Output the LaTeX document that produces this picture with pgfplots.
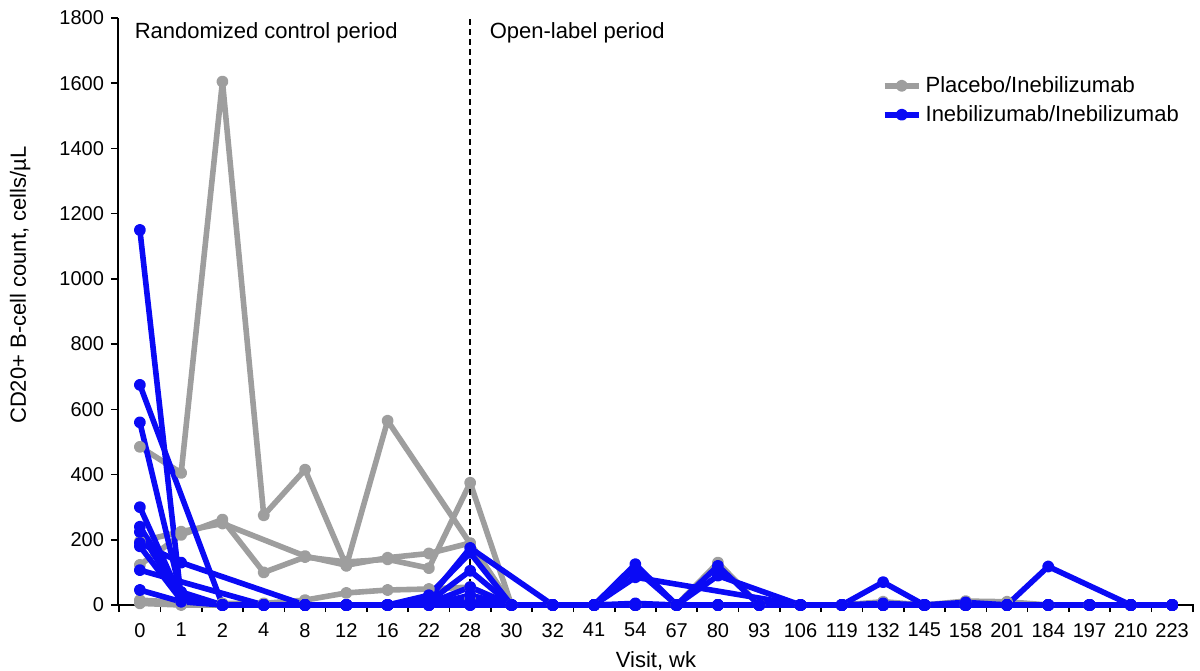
\documentclass[border=0pt]{standalone}
\usepackage{pgfplots}
\pgfplotsset{compat=1.18}
\usepackage{fontspec}
\setmainfont{Liberation Sans}
\definecolor{plgray}{RGB}{158,158,158}
\definecolor{plblue}{RGB}{10,10,245}
\pgfplotsset{
  pg/.style={color=plgray, line width=2.8pt, line join=round, mark=*, mark size=1.6pt, mark options={solid}},
  pb/.style={color=plblue, line width=2.8pt, line join=round, mark=*, mark size=1.6pt, mark options={solid}},
}
\begin{document}
\begin{tikzpicture}
\begin{axis}[
  at={(0,0)}, anchor=south west,
  scale only axis, width=538pt, height=293.5pt,
  xmin=-0.53, xmax=25.53, ymin=0, ymax=1800,
  axis x line*=bottom, axis y line*=left,
  axis line style={-, line width=0.8pt},
  every tick/.style={black, line width=0.8pt},
  tick align=outside,
  major tick length=3.5pt, minor tick length=3.5pt,
  xtick={0,...,25},
  xticklabels={0,1,2,4,8,12,16,22,28,30,32,41,54,67,80,93,106,119,132,145,158,201,184,197,210,223},
  major x tick style={draw=none},
  minor xtick={-0.5,0.5,...,25.5},
  ytick={0,200,...,1800},
  /pgf/number format/assume math mode=true,
  /pgf/number format/1000 sep={},
  tick label style={font=\fontsize{10}{12}\selectfont},
  xticklabel style={yshift=-2pt},
  xlabel={Visit, wk},
  xlabel style={at={(axis description cs:0.5,0)}, anchor=base, yshift=-31pt, font=\fontsize{11}{13}\selectfont},
  ylabel={CD20+ B-cell count, cells/µL},
  ylabel style={at={(axis description cs:-0.091,0.545)}, anchor=center, font=\fontsize{11}{13}\selectfont},
  legend style={at={(axis description cs:0.704,0.915)}, anchor=north west, draw=none, fill=none,
    font=\fontsize{11}{13}\selectfont, row sep=1pt},
  legend cell align=left,
  clip=false,
]
% Placebo/Inebilizumab
\addplot[pg] coordinates {(0,485)(1,405)(2,1605)(3,275)(4,415)(5,120)(6,565)(9,0)(10,0)(11,0)(12,0)(13,0)(14,0)(15,0)(16,0)(17,0)(18,0)(19,0)(20,0)(21,0)(22,0)(23,0)(24,0)(25,0)};
\addlegendentry{Placebo/Inebilizumab}
\addplot[pg, forget plot] coordinates {(0,123)(1,215)(2,262)(3,100)(4,147)(5,132)(6,140)(7,113)(8,375)(9,0)(10,0)(11,0)(12,0)(13,0)(14,0)(15,0)(16,0)(17,0)(18,0)(19,0)(20,0)(21,0)(22,0)(23,0)(24,0)(25,0)};
\addplot[pg, forget plot] coordinates {(0,195)(1,225)(2,250)(4,150)(5,122)(6,145)(7,158)(8,190)(9,0)(10,0)(11,0)(12,0)(13,0)(14,0)(15,0)(16,0)(17,0)(18,0)(19,0)(20,0)(21,0)(22,0)(23,0)(24,0)(25,0)};
\addplot[pg, forget plot] coordinates {(0,15)(1,8)(2,5)(3,5)(4,15)(5,37)(6,46)(7,49)(8,55)(9,0)(10,0)(11,0)(12,0)(13,0)(14,0)(15,0)(16,0)(17,0)(18,0)(19,0)(20,0)(21,0)(22,0)(23,0)(24,0)(25,0)};
\addplot[pg, forget plot] coordinates {(0,5)(1,0)(2,0)(3,0)(4,0)(5,0)(6,0)(7,0)(8,20)(9,0)(10,0)(11,0)(12,0)(13,0)(14,130)(15,0)(16,0)(17,0)(18,10)(19,0)(20,12)(21,10)(22,0)(23,0)(24,0)(25,0)};
% Inebilizumab/Inebilizumab
\addplot[pb] coordinates {(0,1150)(1,20)(2,0)(3,0)(4,0)(5,0)(6,0)(7,0)(8,10)(9,0)(10,0)(11,0)(12,5)(13,0)(14,0)(15,0)(16,0)(17,0)(18,5)(19,0)(20,5)(21,0)(22,0)(23,0)(24,0)(25,0)};
\addlegendentry{Inebilizumab/Inebilizumab}
\addplot[pb, forget plot] coordinates {(0,675)(2,0)(3,0)(4,0)(5,0)(6,0)(7,20)(8,175)(10,0)(11,0)(12,125)(13,0)(14,120)(15,0)(16,0)(17,0)(18,0)(19,0)(20,0)(21,0)(22,0)(23,0)(24,0)(25,0)};
\addplot[pb, forget plot] coordinates {(0,560)(1,30)(2,0)(3,0)(4,0)(5,0)(6,0)(7,30)(8,160)(9,0)(10,0)(11,0)(12,110)(13,0)(14,90)(16,0)(17,0)(18,0)(19,0)(20,0)(21,0)(22,0)(23,0)(24,0)(25,0)};
\addplot[pb, forget plot] coordinates {(0,300)(1,20)(2,0)(3,0)(4,0)(5,0)(6,0)(7,10)(8,105)(9,0)(10,0)(11,0)(12,85)(16,0)(17,0)(18,70)(19,0)(20,0)(21,0)(22,0)(23,0)(24,0)(25,0)};
\addplot[pb, forget plot] coordinates {(0,240)(1,40)(2,0)(3,0)(4,0)(5,0)(6,0)(7,5)(8,55)(9,0)(10,0)(11,0)(12,0)(13,0)(14,0)(15,0)(16,0)(17,0)(18,0)(19,0)(20,0)(21,0)(22,118)(24,0)(25,0)};
\addplot[pb, forget plot] coordinates {(0,224)(1,20)(2,0)(3,0)(4,0)(5,0)(6,0)(7,0)(8,30)(9,0)(10,0)(11,0)(12,0)(13,0)(14,0)(15,0)(16,0)(17,0)(18,0)(19,0)(20,8)(21,0)(22,0)(23,0)(24,0)(25,0)};
\addplot[pb, forget plot] coordinates {(0,190)(1,130)(4,0)(5,0)(6,0)(7,0)(8,10)(9,0)(10,0)(11,0)(12,0)(13,0)(14,0)(15,0)(16,0)(17,0)(18,0)(19,0)(20,0)(21,0)(22,0)(23,0)(24,0)(25,0)};
\addplot[pb, forget plot] coordinates {(0,180)(1,15)(2,0)(3,0)(4,0)(5,0)(6,0)(7,0)(8,0)(9,0)(10,0)(11,0)(12,0)(13,0)(14,0)(15,0)(16,0)(17,0)(18,0)(19,0)(20,0)(21,0)(22,0)(23,0)(24,0)(25,0)};
\addplot[pb, forget plot] coordinates {(0,107)(3,0)(4,0)(5,0)(6,0)(7,0)(8,0)(9,0)(10,0)(11,0)(12,0)(13,0)(14,0)(15,0)(16,0)(17,0)(18,0)(19,0)(20,0)(21,0)(22,0)(23,0)(24,0)(25,0)};
\addplot[pb, forget plot] coordinates {(0,46)(1,10)(2,0)(3,0)(4,0)(5,0)(6,0)(7,0)(8,0)(9,0)(10,0)(11,0)(12,0)(13,0)(14,0)(15,0)(16,0)(17,0)(18,0)(19,0)(20,0)(21,0)(22,0)(23,0)(24,0)(25,0)};
% period separator
\addplot[black, line width=0.8pt, dash pattern=on 3pt off 2pt, forget plot] coordinates {(8,0)(8,1800)};
\node[anchor=west, font=\fontsize{11}{13}\selectfont] at (axis description cs:0.009,0.974) {Randomized control period};
\node[anchor=west, font=\fontsize{11}{13}\selectfont] at (axis description cs:0.339,0.974) {Open-label period};
\end{axis}
\pgfresetboundingbox
\path[use as bounding box] (-59pt,-32.5pt) rectangle (541pt,302.5pt);
\end{tikzpicture}
\end{document}
